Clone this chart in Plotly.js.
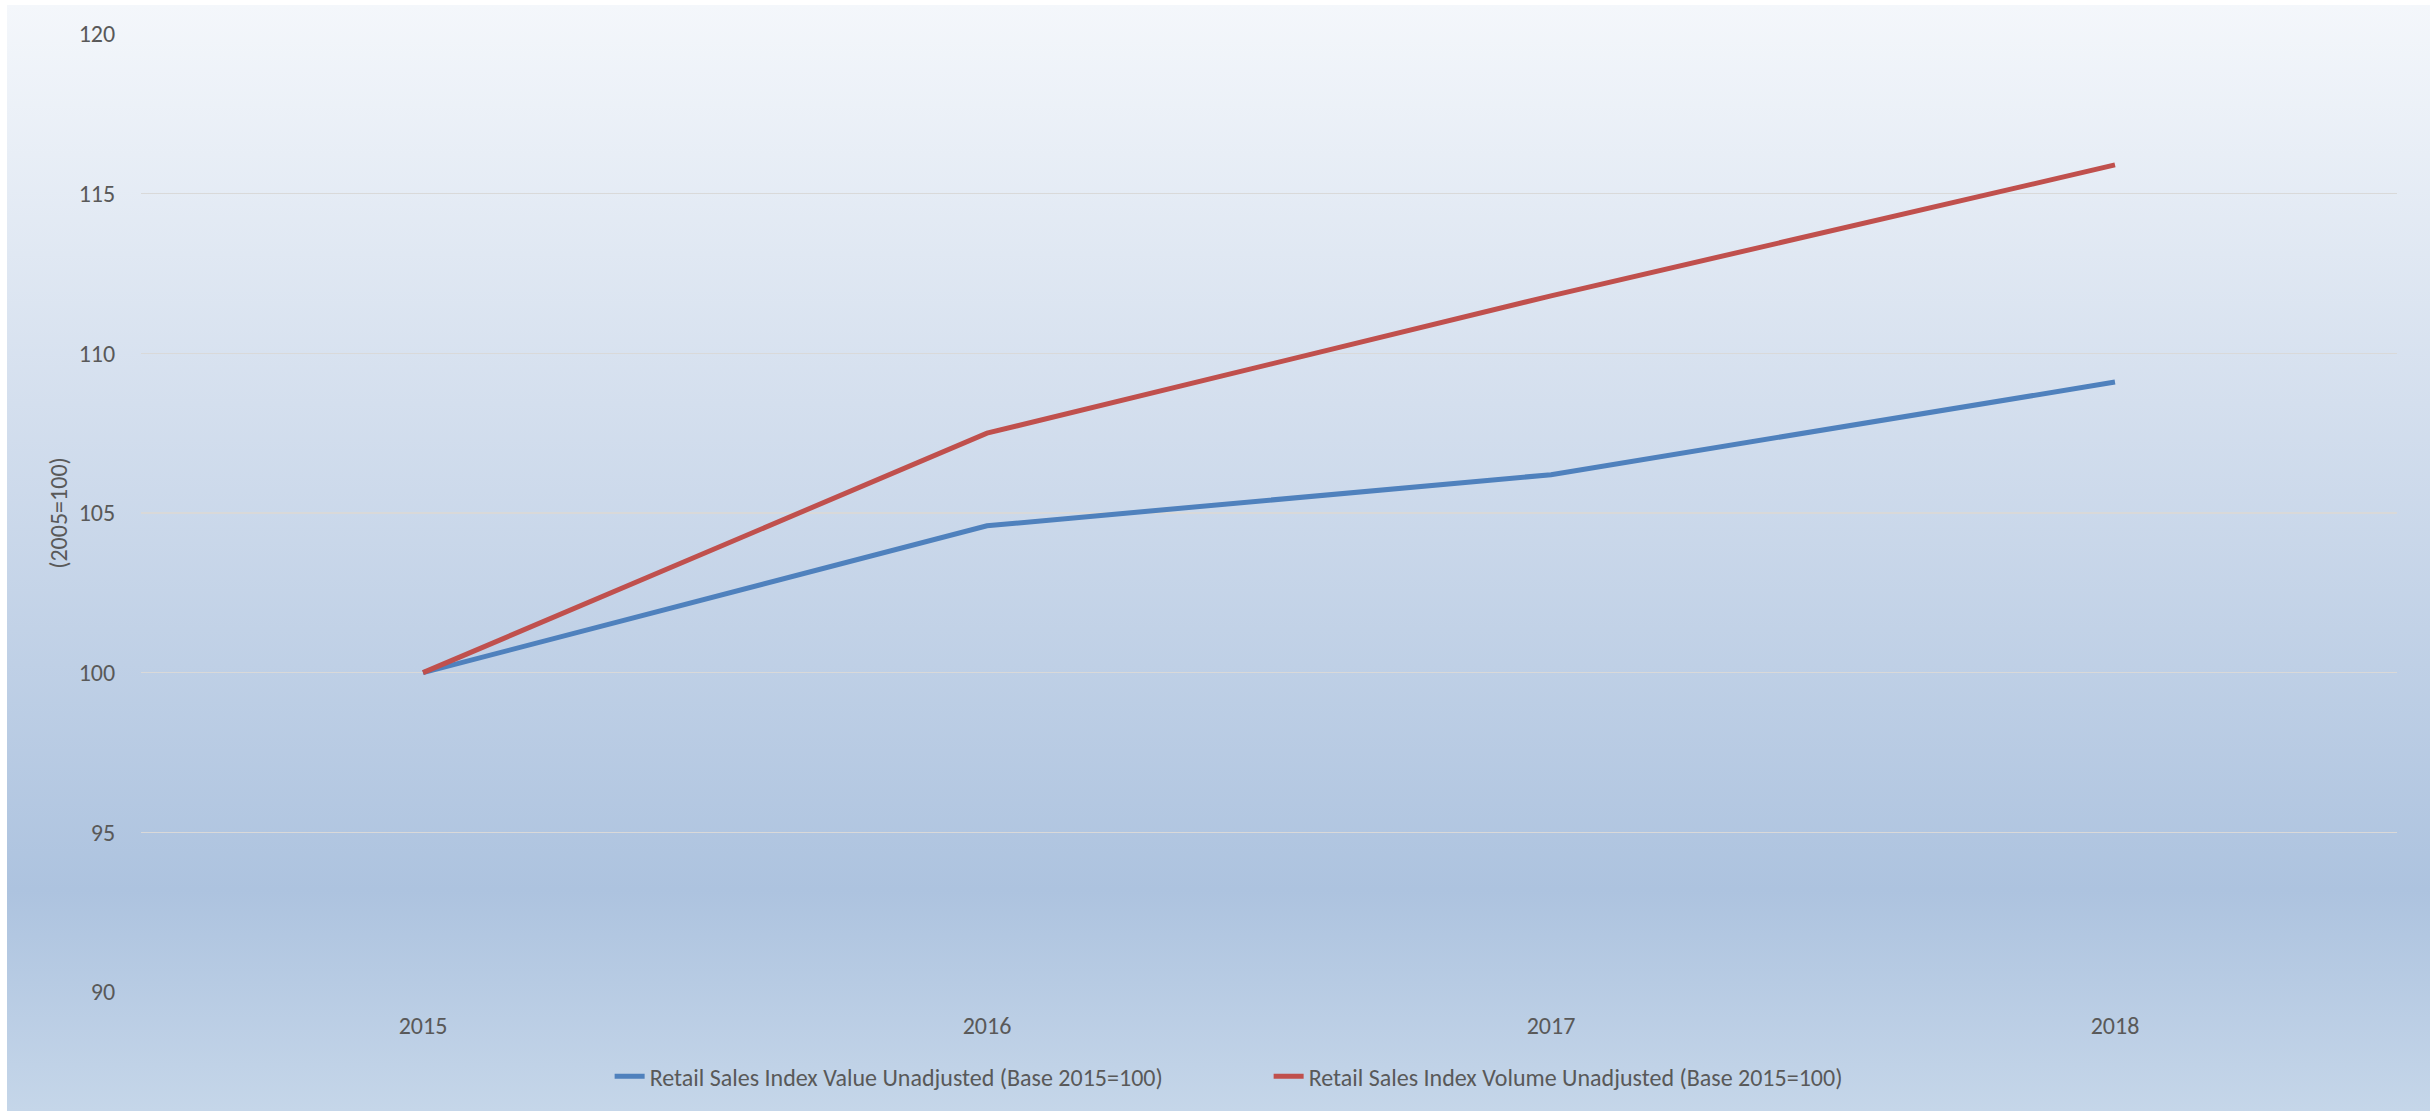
<!DOCTYPE html>
<html>
<head>
<meta charset="utf-8">
<script src="https://cdn.plot.ly/plotly-3.0.1.min.js"></script>
<style>
  html, body { margin: 0; padding: 0; background: #ffffff; }
  #bg { position: absolute; left: 7px; top: 5px; width: 2423px; height: 1106px;
        background: linear-gradient(to bottom, #f4f7fb 0%, #d4dfee 36%, #adc3df 80%, #c5d6e9 100%); }
  #chart { position: absolute; left: 0; top: 0; width: 2435px; height: 1111px; }
</style>
</head>
<body>
<div id="bg"></div>
<div id="chart"></div>
<script>
const years = ['2015', '2016', '2017', '2018'];
const valueIndex = [100.0, 104.6, 106.2, 109.1];
const volumeIndex = [100.0, 107.5, 111.8, 115.9];
const seriesNames = [
  'Retail Sales Index Value Unadjusted (Base 2015=100)',
  'Retail Sales Index Volume Unadjusted (Base 2015=100)'
];
const yTicks = [90, 95, 100, 105, 110, 115, 120];

const fontFam = 'Calibri, Carlito, Lato, "Liberation Sans", Arial, sans-serif';
const txt = '#595959';

const traces = [
  { x: years, y: valueIndex, name: seriesNames[0], type: 'scatter', mode: 'lines',
    line: { color: '#4f81bd', width: 5 } },
  { x: years, y: volumeIndex, name: seriesNames[1], type: 'scatter', mode: 'lines',
    line: { color: '#c0504d', width: 5 } }
];

const layout = {
  width: 2435, height: 1111,
  paper_bgcolor: 'rgba(0,0,0,0)', plot_bgcolor: 'rgba(0,0,0,0)',
  margin: { l: 141, r: 38, t: 34, b: 119 },
  font: { family: fontFam, size: 24, color: txt },
  showlegend: true,
  legend: { orientation: 'h', xref: 'container', yref: 'container', x: 0.521, xanchor: 'center',
            y: 0.031, yanchor: 'middle', font: { size: 24, color: txt }, entrywidth: 614,
            bgcolor: 'rgba(0,0,0,0)' },
  xaxis: { type: 'category', range: [-0.5, 3.5], showgrid: false, zeroline: false,
           showline: false, ticks: 'outside', ticklen: 12, tickcolor: 'rgba(0,0,0,0)',
           tickfont: { size: 24, color: txt } },
  yaxis: { range: [90, 120], tickvals: yTicks, showgrid: true, gridcolor: '#d9d9d9', gridwidth: 1.5,
           zeroline: false, showline: false, ticks: 'outside', ticklen: 20, tickcolor: 'rgba(0,0,0,0)',
           tickfont: { size: 24, color: txt },
           title: { text: '(2005=100)', font: { size: 24, color: txt }, standoff: 4 } }
};

Plotly.newPlot('chart', traces, layout, { displayModeBar: false, staticPlot: true });
</script>
</body>
</html>
